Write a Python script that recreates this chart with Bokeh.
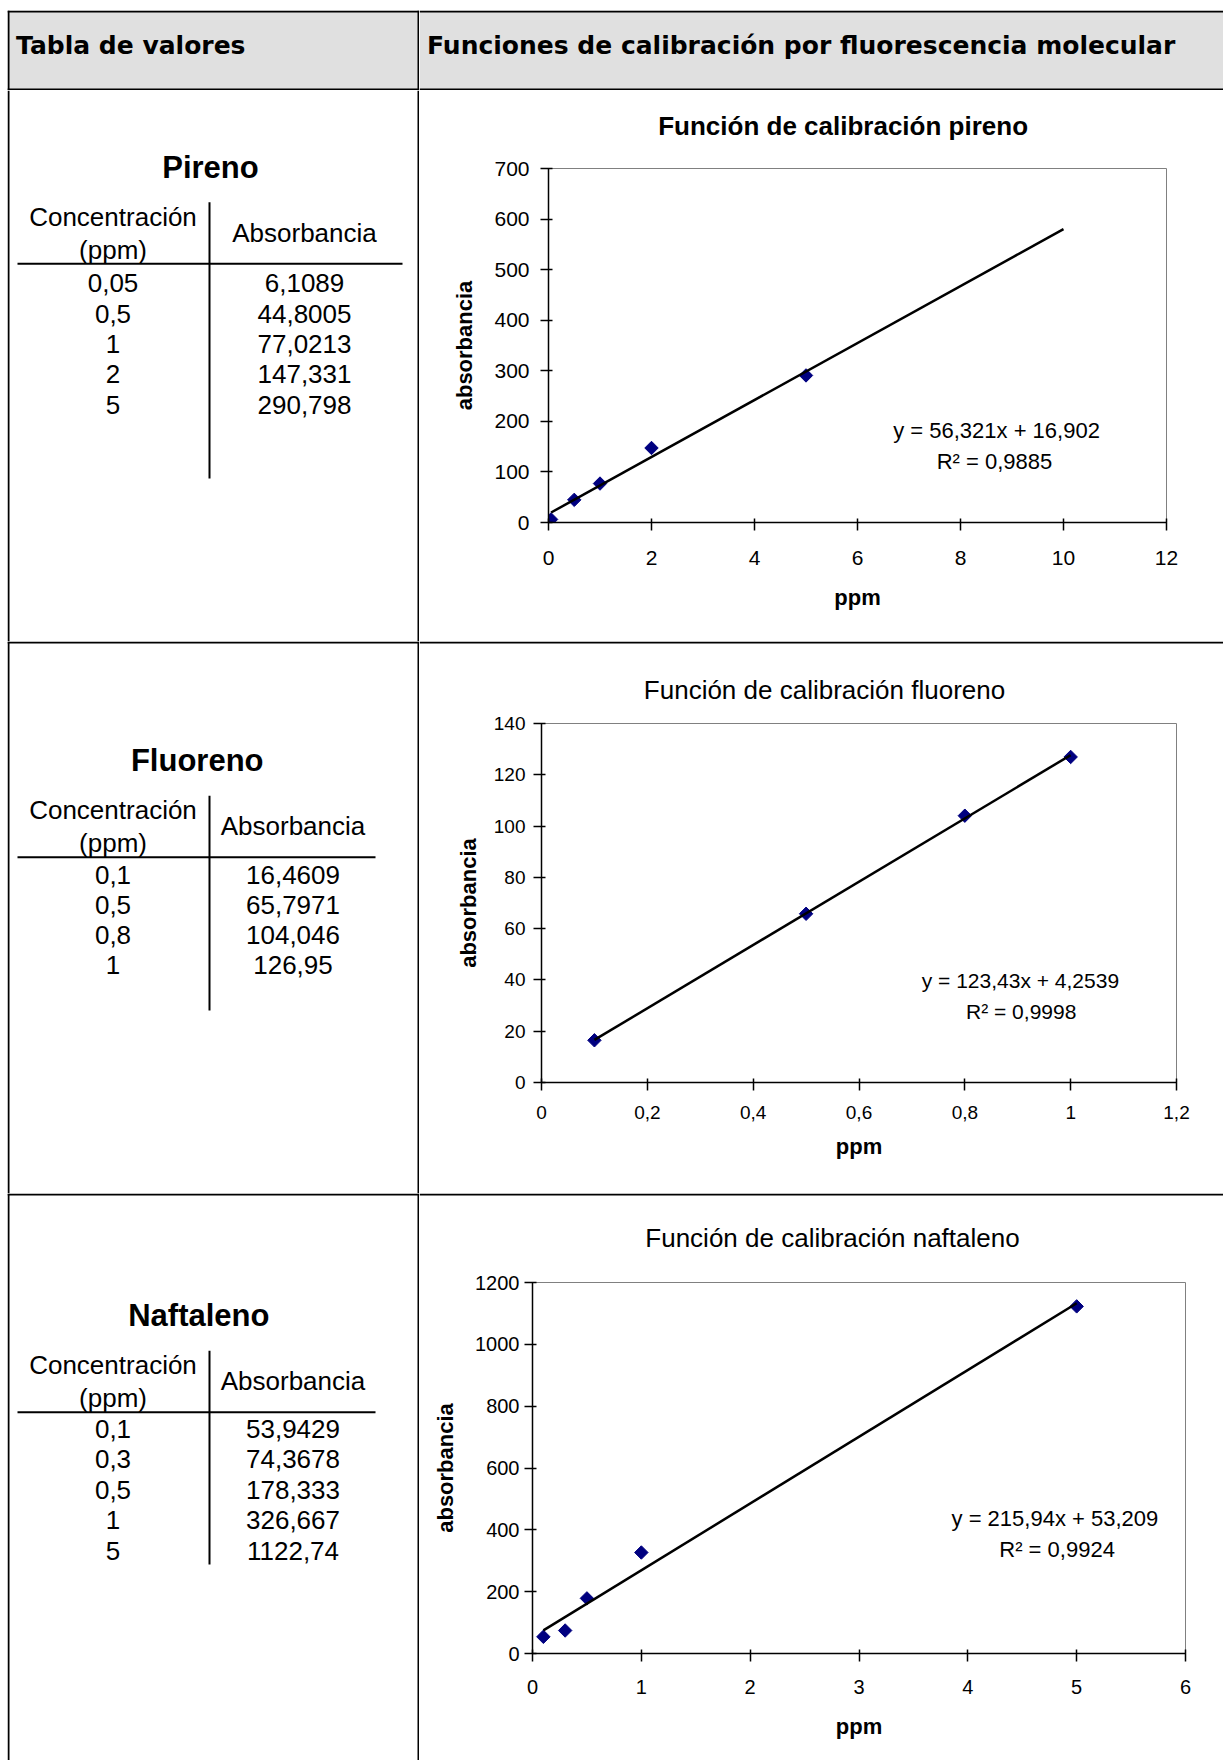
import numpy as np
from bokeh.plotting import figure
from bokeh.layouts import column, row
from bokeh.models import Range1d, FixedTicker, CustomJSTickFormatter, Label, Spacer
from bokeh.core.properties import value
from bokeh.embed import file_html
from bokeh.resources import INLINE

# ---------------- data ----------------
header_left = "Tabla de valores"
header_right = "Funciones de calibración por fluorescencia molecular"
col_conc_label = ["Concentración", "(ppm)"]
col_abs_label = "Absorbancia"
x_axis_label = "ppm"
y_axis_label = "absorbancia"

pireno_name = "Pireno"
pireno_title = "Función de calibración pireno"
pireno_conc = [0.05, 0.5, 1, 2, 5]
pireno_abs = [6.1089, 44.8005, 77.0213, 147.331, 290.798]
pireno_fit = (56.321, 16.902, 0.9885)      # slope, intercept, R²
pireno_fit_x_end = 10                      # trend line forecast end
pireno_xticks = [0, 2, 4, 6, 8, 10, 12]
pireno_yticks = [0, 100, 200, 300, 400, 500, 600, 700]

fluoreno_name = "Fluoreno"
fluoreno_title = "Función de calibración fluoreno"
fluoreno_conc = [0.1, 0.5, 0.8, 1]
fluoreno_abs = [16.4609, 65.7971, 104.046, 126.95]
fluoreno_fit = (123.43, 4.2539, 0.9998)
fluoreno_fit_x_end = 1
fluoreno_xticks = [0, 0.2, 0.4, 0.6, 0.8, 1, 1.2]
fluoreno_yticks = [0, 20, 40, 60, 80, 100, 120, 140]

naftaleno_name = "Naftaleno"
naftaleno_title = "Función de calibración naftaleno"
naftaleno_conc = [0.1, 0.3, 0.5, 1, 5]
naftaleno_abs = [53.9429, 74.3678, 178.333, 326.667, 1122.74]
naftaleno_fit = (215.94, 53.209, 0.9924)
naftaleno_fit_x_end = 5
naftaleno_xticks = [0, 1, 2, 3, 4, 5, 6]
naftaleno_yticks = [0, 200, 400, 600, 800, 1000, 1200]

# ---------------- style ----------------
FONT = "Liberation Sans"
HEAD_FONT = "DejaVu Sans"
NAVY = "#000080"
GRAY = "#e0e0e0"
LEFT_W, RIGHT_W = 412, 804


def fmt(v):
    return str(v).replace(".", ",")


def no_align(p):
    try:
        p.frame_align = False
    except Exception:
        pass
    return p


def blank(w, h):
    p = figure(width=w, height=h, x_range=Range1d(0, w), y_range=Range1d(h, 0),
               x_axis_type=None, y_axis_type=None, toolbar_location=None,
               output_backend="svg", min_border=0)
    p.outline_line_color = None
    p.background_fill_color = "white"
    p.border_fill_color = "white"
    return no_align(p)


def header(w, text, text_x, left_borders):
    p = blank(w, 80)
    p.quad(left=[0], right=[w], top=[0], bottom=[80], fill_color=GRAY, line_color=None)
    ls, rs, ts, bs = [0, 0], [w, w], [0, 78], [2, 80]
    if left_borders:
        ls += [0, w - 2]; rs += [2, w]; ts += [0, 0]; bs += [80, 80]
    p.quad(left=ls, right=rs, top=ts, bottom=bs, fill_color="black", line_color=None)
    p.text(x=[text_x], y=[35.2], text=[text], text_font=value(HEAD_FONT), text_font_style="bold",
           text_font_size="25px", text_align="left", text_baseline="middle", text_color="black")
    return p


def table(h, top_line, name, conc, absb, hline_y, hline_x1, col2_x, title_x, vline_bottom,
          first_row_dy, row_step):
    H = h + top_line
    p = blank(LEFT_W, H)
    p.quad(left=[0, LEFT_W - 2], right=[2, LEFT_W], top=[0, 0], bottom=[H, H],
           fill_color="black", line_color=None)
    if top_line:
        p.quad(left=[0], right=[LEFT_W], top=[0], bottom=[top_line], fill_color="black", line_color=None)
    hy = hline_y + top_line
    col1_x, vline_x = 105.5, 202
    p.segment(x0=[10, vline_x], y0=[hy, hy - 61.5], x1=[hline_x1, vline_x],
              y1=[hy, vline_bottom + top_line], line_color="black", line_width=2)
    p.text(x=[title_x], y=[hy - 96.7], text=[name], text_font=value(FONT), text_font_style="bold",
           text_font_size="31px", text_align="center", text_baseline="middle", text_color="black")
    p.text(x=[col1_x, col1_x, col2_x], y=[hy - 46.8, hy - 14.3, hy - 30.8],
           text=col_conc_label + [col_abs_label], text_font=value(FONT), text_font_size="26px",
           text_align="center", text_baseline="middle", text_color="black")
    n = len(conc)
    ys = [hy + first_row_dy + row_step * i for i in range(n)]
    p.text(x=[col1_x] * n + [col2_x] * n, y=ys + ys,
           text=[fmt(c) for c in conc] + [fmt(a) for a in absb], text_font=value(FONT),
           text_font_size="26px", text_align="center", text_baseline="middle", text_color="black")
    return p


def title_fig(h, top_line, text, bold, cx, cy):
    p = blank(RIGHT_W, h + top_line)
    if top_line:
        p.quad(left=[0], right=[RIGHT_W], top=[0], bottom=[top_line], fill_color="black", line_color=None)
    p.text(x=[cx], y=[cy + top_line], text=[text], text_font=value(FONT),
           text_font_style="bold" if bold else "normal", text_font_size="26px",
           text_align="center", text_baseline="middle", text_color="black")
    return p


def chart(h, borders, xticks, yticks, conc, absb, fit, fit_x_end,
          tick_size, x_std, x_lab_std, y_std, y_lab_std, eq_size, eq_pos, r2_pos):
    L, R, T, B = borders
    p = figure(width=RIGHT_W, height=h,
               x_range=Range1d(xticks[0], xticks[-1]), y_range=Range1d(yticks[0], yticks[-1]),
               toolbar_location=None, output_backend="svg",
               min_border_left=L, min_border_right=R, min_border_top=T, min_border_bottom=B)
    no_align(p)
    p.grid.visible = False
    p.outline_line_color = "#808080"
    p.outline_line_width = 1
    p.background_fill_color = "white"
    p.border_fill_color = "white"
    for ax, ticks, std, lstd, lab in ((p.xaxis[0], xticks, x_std, x_lab_std, x_axis_label),
                                      (p.yaxis[0], yticks, y_std, y_lab_std, y_axis_label)):
        ax.ticker = FixedTicker(ticks=ticks)
        ax.formatter = CustomJSTickFormatter(
            code="return (Math.round(tick * 10) / 10).toString().replace('.', ',');")
        ax.axis_line_color = "black"
        ax.axis_line_width = 1.5
        ax.major_tick_line_color = "black"
        ax.major_tick_line_width = 1.5
        ax.major_tick_in = 4
        ax.major_tick_out = 8
        ax.minor_tick_line_color = None
        ax.major_label_text_font = FONT
        ax.major_label_text_font_size = f"{tick_size}px"
        ax.major_label_text_color = "black"
        ax.major_label_standoff = std
        ax.axis_label = lab
        ax.axis_label_text_font = FONT
        ax.axis_label_text_font_size = "22px"
        ax.axis_label_text_font_style = "bold"
        ax.axis_label_text_color = "black"
        ax.axis_label_standoff = lstd

    slope, intercept, r2 = fit
    p.scatter(conc, absb, marker="square", size=9.5, angle=np.pi / 4,
              fill_color=NAVY, line_color=NAVY)
    fx = np.array([min(conc), fit_x_end], dtype=float)
    p.line(fx, slope * fx + intercept, line_color="black", line_width=2.5)

    p.add_layout(Label(x=eq_pos[0], y=eq_pos[1], text=f"y = {fmt(slope)}x + {fmt(intercept)}",
                       text_align="center", text_baseline="middle", text_font=FONT,
                       text_font_size=f"{eq_size}px", text_color="black"))
    p.add_layout(Label(x=r2_pos[0], y=r2_pos[1], text=f"R² = {fmt(r2)}",
                       text_align="center", text_baseline="middle", text_font=FONT,
                       text_font_size=f"{eq_size}px", text_color="black"))
    return p


ROW_H = [551, 550, 565]
TOP_LINE = [0, 2, 2]
TITLE_H = [63, 65, 72]
CHART_TOP = 15

hl = header(LEFT_W, header_left, 8.6, True)
hr = header(RIGHT_W, header_right, 7.5, False)

t1 = table(ROW_H[0], TOP_LINE[0], pireno_name, pireno_conc, pireno_abs,
           173.3, 395, 297, 203, 388, 19.4, 30.4)
t2 = table(ROW_H[1], TOP_LINE[1], fluoreno_name, fluoreno_conc, fluoreno_abs,
           213.7, 368, 285.5, 189.7, 367, 17.6, 30.2)
t3 = table(ROW_H[2], TOP_LINE[2], naftaleno_name, naftaleno_conc, naftaleno_abs,
           216.7, 368, 285.5, 191.3, 369, 16.8, 30.4)

tt1 = title_fig(TITLE_H[0], TOP_LINE[0], pireno_title, True, 423.6, 35.5)
tt2 = title_fig(TITLE_H[1], TOP_LINE[1], fluoreno_title, False, 405, 46.6)
tt3 = title_fig(TITLE_H[2], TOP_LINE[2], naftaleno_title, False, 413, 42)

c1 = chart(ROW_H[0] - TITLE_H[0], (129, 57, CHART_TOP, 119),
           pireno_xticks, pireno_yticks, pireno_conc, pireno_abs, pireno_fit, pireno_fit_x_end,
           21, 20, 17, 11, 14, 22, (8.70, 182.4), (8.66, 121))
c2 = chart(ROW_H[1] - TITLE_H[1], (122, 47, CHART_TOP, 111),
           fluoreno_xticks, fluoreno_yticks, fluoreno_conc, fluoreno_abs, fluoreno_fit,
           fluoreno_fit_x_end, 19, 15, 12, 8, 10, 21, (0.905, 39.8), (0.9065, 27.8))
c3 = chart(ROW_H[2] - TITLE_H[2], (113, 38, CHART_TOP, 107),
           naftaleno_xticks, naftaleno_yticks, naftaleno_conc, naftaleno_abs, naftaleno_fit,
           naftaleno_fit_x_end, 20, 18, 17, 5, 14, 22, (4.80, 436.7), (4.82, 336.4))

layout = column(
    Spacer(width=1223, height=10),
    row(Spacer(width=7, height=80), hl, hr),
    row(Spacer(width=7, height=ROW_H[0]), t1, column(tt1, c1)),
    row(Spacer(width=7, height=ROW_H[1] + TOP_LINE[1]), t2, column(tt2, c2)),
    row(Spacer(width=7, height=ROW_H[2] + TOP_LINE[2]), t3, column(tt3, c3)),
)

open("out.html", "w").write(file_html(layout, INLINE))
